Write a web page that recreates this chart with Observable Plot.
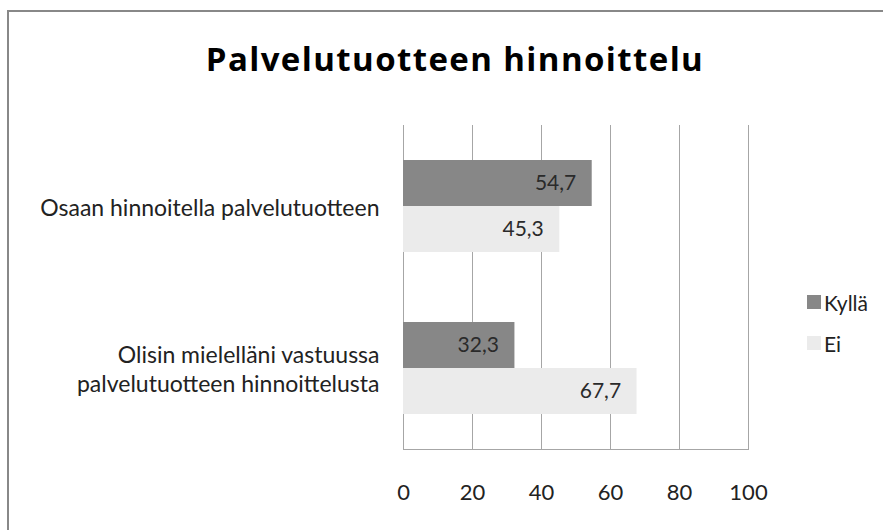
<!DOCTYPE html>
<html>
<head>
<meta charset="utf-8">
<script src="https://cdn.jsdelivr.net/npm/d3@7"></script>
<script src="https://cdn.jsdelivr.net/npm/@observablehq/plot@0.6"></script>
<style>
  body { margin: 0; background: #fff; }
  #wrap { position: relative; width: 883px; height: 530px; overflow: hidden; background: #fff; font-family: Lato, "Open Sans", sans-serif; }
  #border { position: absolute; left: 7px; top: 10px; width: 1000px; height: 1000px; border-left: 2px solid #888; border-top: 2px solid #888; }
  #title { position: absolute; left: 0; width: 910px; top: 37px; text-align: center; font-family: "Open Sans", sans-serif; font-size: 33px; line-height: 44px; letter-spacing: 1.4px; font-weight: bold; color: #000; }
  #chart { position: absolute; left: 0; top: 0; }
  #legend { position: absolute; left: 807px; top: 287px; font-size: 21px; color: #222; }
  .item { display: flex; align-items: center; height: 30px; margin-bottom: 11px; }
  .sw { width: 14px; height: 14px; margin-right: 3px; }
</style>
</head>
<body>
<div id="wrap">
  <div id="border"></div>
  <div id="chart"></div>
  <div id="title"></div>
  <div id="legend"></div>
</div>
<script>
const title = "Palvelutuotteen hinnoittelu";
const categories = ["Osaan hinnoitella palvelutuotteen", "Olisin mielelläni vastuussa\npalvelutuotteen hinnoittelusta"];
const series = ["Kyllä", "Ei"];
const kylla = [54.7, 32.3];
const ei = [45.3, 67.7];
const xTicks = [0, 20, 40, 60, 80, 100];
const colors = ["#878787", "#ebebeb"];

const rows = [];
categories.forEach((c, i) => {
  rows.push({category: c, series: series[0], value: kylla[i]});
  rows.push({category: c, series: series[1], value: ei[i]});
});
const fmt = v => v.toFixed(1).replace(".", ",");

document.getElementById("title").textContent = title;

const chart = Plot.plot({
  width: 883,
  height: 530,
  marginLeft: 403,
  marginRight: 135,
  marginTop: 125,
  marginBottom: 81,
  style: {fontFamily: "Lato, 'Open Sans', sans-serif", background: "transparent"},
  x: {domain: [0, 100]},
  fy: {domain: categories, padding: 0},
  y: {domain: series, paddingInner: 0, paddingOuter: 0.76, axis: null},
  color: {domain: series, range: colors},
  marks: [
    Plot.ruleX(xTicks, {stroke: "#a6a6a6", strokeWidth: 1}),
    Plot.barX(rows, {x: "value", y: "series", fy: "category", fill: "series"}),
    Plot.text(rows, {x: "value", y: "series", fy: "category", text: d => fmt(d.value), textAnchor: "end", dx: -16, fill: "#2a2a2a", fontSize: 21}),
    Plot.axisX({ticks: xTicks, tickSize: 0, tickPadding: 35, fontSize: 22, label: null, fill: "#222"}),
    Plot.axisFy({anchor: "left", tickSize: 0, tickPadding: 24, fontSize: 23, label: null, lineHeight: 1.25, fill: "#222"}),
    Plot.frame({anchor: "bottom", facet: "super", stroke: "#a6a6a6"})
  ]
});
document.getElementById("chart").appendChild(chart);

const legend = d3.select("#legend");
series.forEach((s, i) => {
  const item = legend.append("div").attr("class", "item");
  item.append("div").attr("class", "sw").style("background", colors[i]);
  item.append("span").text(s);
});
</script>
</body>
</html>
